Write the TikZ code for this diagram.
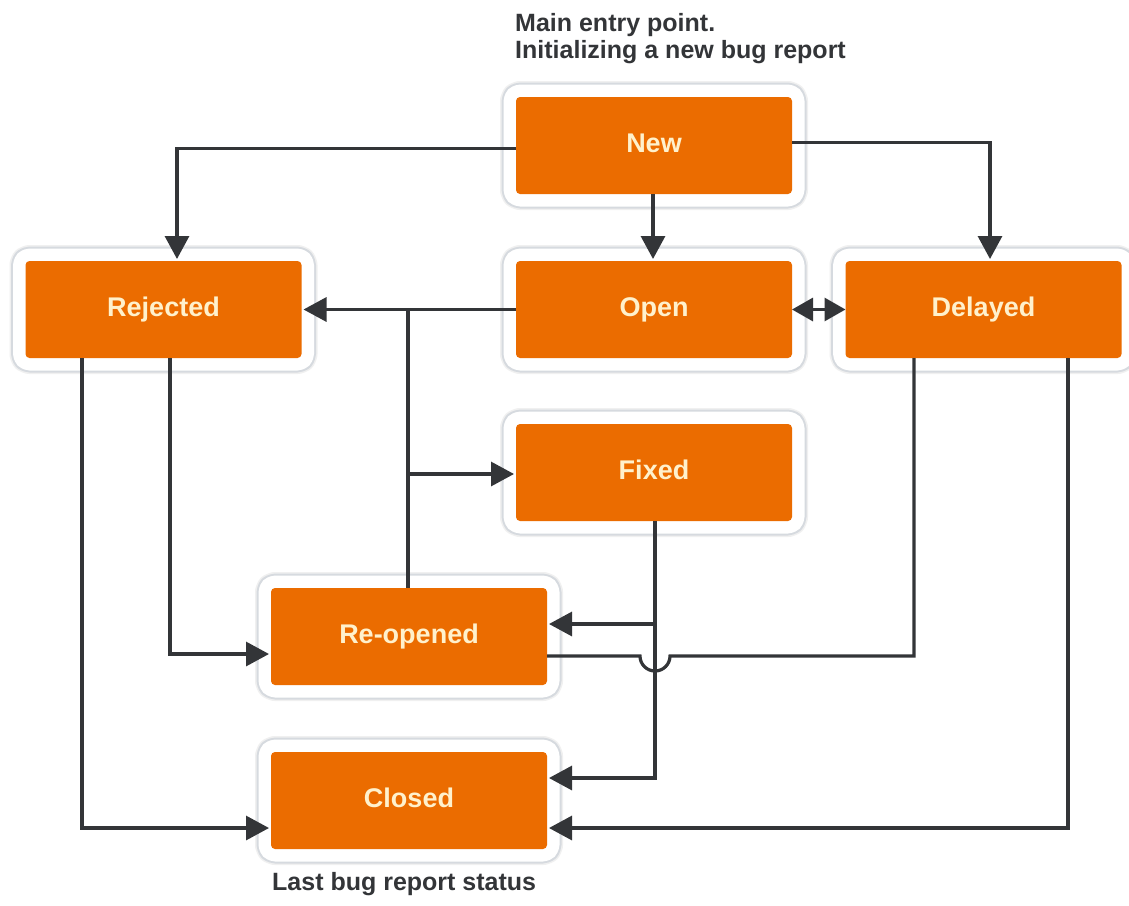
\documentclass[tikz,border=0pt]{standalone}
\usepackage{fontspec}
\setmainfont{Liberation Sans}
\usetikzlibrary{arrows.meta}
\definecolor{boxorange}{HTML}{EB6C00}
\definecolor{boxtext}{HTML}{FFF1CC}
\definecolor{framegray}{HTML}{D6DADF}
\definecolor{linegray}{HTML}{333538}
\tikzset{
  state/.style={
    minimum width=276pt, minimum height=97pt, inner sep=0pt, outer sep=0pt,
    fill=boxorange, rounded corners=4pt, text=boxtext,
    text height=20pt, text depth=6pt,
    font=\bfseries\fontsize{27}{30}\selectfont,
    preaction={draw=black!6, line width=32pt, line join=round},
    preaction={draw=framegray, line width=29pt, line join=round},
    preaction={draw=white, line width=25pt, line join=round}},
  conn/.style={draw=linegray, line width=3.2pt},
  arr/.style={conn, -{Triangle[length=23pt,width=24pt]}, shorten >=2pt},
  darr/.style={conn, {Triangle[length=21pt,width=23pt]}-{Triangle[length=21pt,width=23pt]}},
  note/.style={text=linegray, font=\bfseries\fontsize{25}{27.5}\selectfont, inner sep=0pt, align=left}
}
\begin{document}
\begin{tikzpicture}[x=1pt, y=-1pt]
  \useasboundingbox (0,0) rectangle (1129,905);
  \fill[white] (0,0) rectangle (1129,905);

  % states
  \node[state] (New)      at (654,145.5)   {New};
  \node[state] (Rejected) at (163.5,309.5) {Rejected};
  \node[state] (Open)     at (654,309.5)   {Open};
  \node[state] (Delayed)  at (983.5,309.5) {Delayed};
  \node[state] (Fixed)    at (654,472.5)   {Fixed};
  \node[state] (Reopened) at (409,636.5)   {Re-opened};
  \node[state] (Closed)   at (409,800.5)   {Closed};

  % notes
  \node[note, anchor=north west] (entry) at (515,13) {Main entry point.\\Initializing a new bug report};
  \node[note, anchor=north west] (last) at (272,872) {Last bug report status};

  % from New
  \draw[arr] ([yshift=-3pt]New.west) -| ([xshift=13.5pt]Rejected.north);
  \draw[arr] ([xshift=-1pt]New.south) -- ([xshift=-1pt]Open.north);
  \draw[arr] ([yshift=3pt]New.east) -| ([xshift=6.5pt]Delayed.north);

  % Open / Delayed
  \draw[darr] (Open.east) -- (Delayed.west);

  % Re-opened back to Rejected and Fixed
  \coordinate (fw) at ([yshift=-1.5pt]Fixed.west);
  \coordinate (jr) at ([xshift=-1pt]Reopened.north |- Open.west);
  \coordinate (jf) at ([xshift=-1pt]Reopened.north |- fw);
  \draw[arr] (Open.west) -- (Rejected.east);
  \draw[conn] ([xshift=-1pt]Reopened.north) -- (jr);
  \draw[arr] (jf) -- (fw);

  % from Rejected
  \draw[arr] ([xshift=-81.5pt]Rejected.south) |- ([yshift=-27.5pt]Closed.west);
  \draw[arr] ([xshift=6.5pt]Rejected.south) |- ([yshift=-17.5pt]Reopened.west);

  % from Fixed
  \coordinate (fx) at ([xshift=1pt]Fixed.south);
  \draw[arr] (fx) |- ([yshift=22.5pt]Closed.east);
  \coordinate (re) at ([yshift=12.5pt]Reopened.east);
  \coordinate (jb) at (fx |- re);
  \draw[arr] (jb) -- (re);

  % Re-opened to Delayed, hopping over the Fixed line
  \coordinate (rl) at ([yshift=-19.5pt]Reopened.east);
  \coordinate (hc) at (fx |- rl);
  \coordinate (dl) at ([xshift=-69.5pt]Delayed.south);
  \draw[conn] (rl) -- ([xshift=-15pt]hc) arc[start angle=180, end angle=0, radius=15] -- (hc -| dl) -- (dl);

  % from Delayed
  \draw[arr] ([xshift=84.5pt]Delayed.south) |- ([yshift=-27.5pt]Closed.east);
\end{tikzpicture}
\end{document}
